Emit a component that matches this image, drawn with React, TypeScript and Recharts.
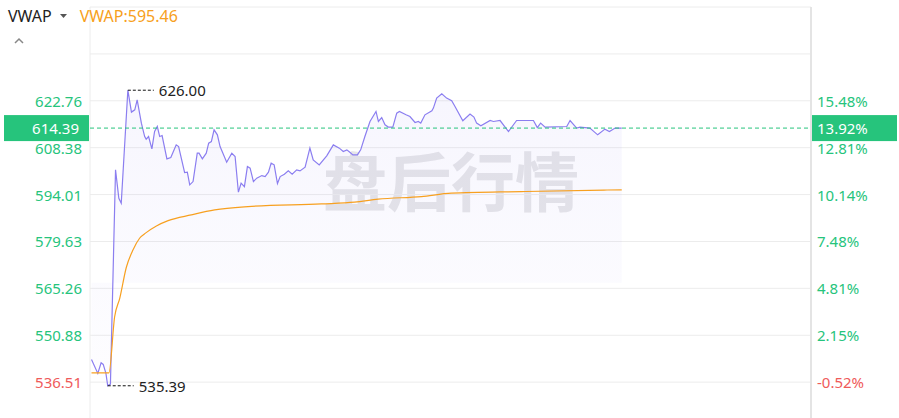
import React from 'react';
import {
  ComposedChart,
  Line,
  Area,
  XAxis,
  YAxis,
  CartesianGrid,
  ReferenceLine,
  ReferenceDot,
} from 'recharts';

// ---- data ----
const prevClose = 539.31;
const sessionMinutes = [0, 60, 120, 180, 240]; // 16:00 .. 20:00 gridlines

const priceTimes = [
  0.5, 2.6, 3.7, 4.4, 5.3, 5.9, 6.8, 8.5, 9.6, 10.4, 12.6, 13.8, 14.9, 15.7, 17.1, 18.2, 18.7, 19.5, 20.6, 21.5,
  22.4, 23.2, 24.0, 25.6, 26.9, 28.0, 28.7, 29.5, 31.5, 32.4, 33.2, 34.3, 35.7, 36.3, 37.4, 38.7, 39.5, 40.4, 41.3,
  42.4, 43.3, 45.5, 47.2, 48.3, 49.4, 50.3, 51.4, 52.4, 53.3, 54.4, 55.5, 57.2, 58.3, 59.4, 60.3, 61.3, 62.4, 63.3,
  64.7, 66.0, 67.3, 68.8, 69.9, 71.6, 73.2, 74.3, 76.3, 78.8, 81.0, 83.0, 84.3, 85.5, 86.6, 87.5, 89.0, 90.1, 91.5,
  93.2, 95.2, 96.0, 97.1, 98.2, 99.3, 100.8, 102.1, 103.0, 105.2, 106.5, 108.2, 109.3, 110.1, 111.5, 113.8, 114.3,
  115.4, 117.1, 118.7, 120.4, 121.5, 124.1, 126.5, 127.8, 128.7, 130.1, 133.2, 134.3, 136.5, 139.3, 142.0, 147.6,
  148.9, 150.0, 151.5, 158.7, 159.8, 162.0, 163.1, 166.4, 169.0, 171.4, 172.9, 174.8, 177.0,
];
const prices = [
  543.48, 539.18, 542.43, 541.94, 539.18, 535.39, 535.9, 601.58, 592.89, 591.36, 626.0, 619.29, 620.0, 623.07, 615.91,
  611.8, 611.0, 611.8, 608.03, 613.34, 614.87, 611.8, 612.11, 604.96, 605.36, 607.72, 609.25, 608.73, 600.75, 600.87,
  596.98, 597.99, 606.71, 606.71, 604.96, 606.71, 609.78, 610.27, 613.86, 612.32, 608.73, 603.94, 606.71, 605.66,
  594.74, 597.5, 596.45, 602.59, 602.1, 597.99, 599.03, 599.83, 599.52, 600.87, 603.64, 603.12, 597.38, 599.52,
  600.26, 601.27, 600.26, 601.58, 601.27, 602.41, 608.24, 604.65, 603.12, 605.88, 609.25, 608.24, 607.2, 607.72,
  606.89, 606.18, 606.18, 607.72, 611.8, 616.41, 619.48, 616.41, 617.63, 615.39, 614.69, 614.69, 618.98, 619.48,
  618.46, 617.94, 616.1, 616.41, 615.91, 618.46, 619.69, 620.52, 623.59, 624.91, 623.59, 622.76, 621.01, 616.62,
  618.68, 617.76, 615.91, 615.09, 616.71, 616.41, 616.71, 613.34, 616.71, 616.71, 614.56, 615.91, 614.69, 614.87,
  616.71, 614.39, 614.69, 614.39, 612.32, 614.07, 613.34, 614.39, 614.39,
];

const vwapTimes = [
  0.5, 6.3, 8.2, 9.9, 12.1, 14.3, 16.5, 18.7, 22.1, 26.0, 33.7, 41.5, 52.6, 77.0, 88.1, 95.9, 110.3, 120.3, 143.6,
  171.1, 177.0,
];
const vwapValues = [
  539.36, 539.36, 556.55, 562.2, 571.72, 577.03, 580.62, 582.34, 584.39, 586.02, 587.77, 589.3, 590.32, 591.14,
  591.67, 592.59, 593.39, 594.43, 594.92, 595.4, 595.46,
];

const leftTickLabels = ['536.51', '550.88', '565.26', '579.63', '594.01', '608.38', '622.76'];
const rightTickLabels = ['-0.52%', '2.15%', '4.81%', '7.48%', '10.14%', '12.81%', '15.48%'];
const extraGridValues = [522.14, 637.13, 651.51];

const headerTitle = 'VWAP';
const watermarkText = '盘后行情';

// ---- derived ----
const priceData = priceTimes.map((t, i) => ({ t, p: prices[i] }));
const vwapData = vwapTimes.map((t, i) => ({ t, v: vwapValues[i] }));
const leftTickValues = leftTickLabels.map((s) => parseFloat(s));
const allTicks = [...leftTickValues, ...extraGridValues].sort((a, b) => a - b);
const yDomain = [Math.min(...allTicks), Math.max(...allTicks)];

const lastPrice = prices[prices.length - 1];
const lastVwap = vwapValues[vwapValues.length - 1];
const lastPct = ((lastPrice / prevClose - 1) * 100).toFixed(2) + '%';
const maxIdx = prices.indexOf(Math.max(...prices));
const minIdx = prices.indexOf(Math.min(...prices));

const FONT = '"Microsoft YaHei", "Noto Sans", "Noto Sans CJK SC", sans-serif';
const GREEN = '#26c47c';
const RED = '#ef5a5a';
const PURPLE = '#8b7ef0';
const ORANGE = '#f7a020';

const findIdx = (v: number) => leftTickValues.findIndex((x) => Math.abs(x - v) < 0.01);

const LeftTick = (props: any) => {
  const { x, y, payload } = props;
  const i = findIdx(payload.value);
  if (i < 0) return null;
  return (
    <text x={x} y={y} textAnchor="end" dominantBaseline="central" fontSize={15} fontFamily={FONT}
      fill={payload.value < prevClose ? RED : GREEN}>
      {leftTickLabels[i]}
    </text>
  );
};

const RightTick = (props: any) => {
  const { x, y, payload } = props;
  const i = findIdx(payload.value);
  if (i < 0) return null;
  return (
    <text x={x} y={y} textAnchor="start" dominantBaseline="central" fontSize={15} fontFamily={FONT}
      fill={payload.value < prevClose ? RED : GREEN}>
      {rightTickLabels[i]}
    </text>
  );
};

const PriceTag = (props: any) => {
  const vb = props.viewBox || {};
  const { x = 0, y = 0, width = 0 } = vb;
  return (
    <g>
      <rect x={x - 86} y={y - 13} width={85} height={26} fill={GREEN} />
      <text x={x - 11} y={y} textAnchor="end" dominantBaseline="central" fontSize={15} fontFamily={FONT} fill="#fff">
        {lastPrice.toFixed(2)}
      </text>
      <rect x={x + width + 1} y={y - 13} width={85} height={26} fill={GREEN} />
      <text x={x + width + 6} y={y} textAnchor="start" dominantBaseline="central" fontSize={15} fontFamily={FONT} fill="#fff">
        {lastPct}
      </text>
    </g>
  );
};

const ExtremeMark = (label: string) => (props: any) => {
  const { cx, cy } = props;
  return (
    <g>
      <line x1={cx} y1={cy} x2={cx + 26} y2={cy} stroke="#111" strokeWidth={1} strokeDasharray="3 2" />
      <text x={cx + 31} y={cy} dominantBaseline="central" fontSize={15} fontFamily={FONT} fill="#222">
        {label}
      </text>
    </g>
  );
};

export default function App() {
  return (
    <div style={{ position: 'absolute', left: 0, top: 0, width: 899, height: 418, overflow: 'hidden', background: '#fff', fontFamily: FONT }}>
      <div style={{ position: 'absolute', left: 323, top: 146, fontSize: 64, lineHeight: '64px', color: '#e6e6e8', fontWeight: 700, fontFamily: '"Noto Sans CJK SC", sans-serif', whiteSpace: 'nowrap' }}>
        {watermarkText}
      </div>
      <div style={{ position: 'absolute', left: 0, top: 0 }}>
        <ComposedChart width={899} height={429} margin={{ top: 7, right: 0, left: 0, bottom: 0 }}>
          <defs>
            <linearGradient id="areaFill" x1="0" y1="0" x2="0" y2="1">
              <stop offset="0%" stopColor={PURPLE} stopOpacity={0.12} />
              <stop offset="100%" stopColor={PURPLE} stopOpacity={0.02} />
            </linearGradient>
          </defs>
          <CartesianGrid yAxisId="left" stroke="#ececec" />
          <XAxis type="number" dataKey="t" domain={[0, 240]} ticks={sessionMinutes} height={0}
            tick={false} axisLine={false} tickLine={false} allowDataOverflow />
          <YAxis yAxisId="left" orientation="left" width={90} type="number" domain={yDomain} ticks={allTicks}
            tick={LeftTick} axisLine={false} tickLine={false} tickSize={0} tickMargin={8} allowDataOverflow interval={0} />
          <YAxis yAxisId="right" orientation="right" width={88} type="number" domain={yDomain} ticks={allTicks}
            tick={RightTick} axisLine={{ stroke: '#e4e4e4', strokeWidth: 2 }} tickLine={false} tickSize={0} tickMargin={6}
            allowDataOverflow interval={0} />
          <Area yAxisId="left" data={priceData} dataKey="p" type="linear" stroke="none" fill="url(#areaFill)"
            baseValue={567} isAnimationActive={false} />
          <Line yAxisId="left" data={priceData} dataKey="p" type="linear" stroke={PURPLE} strokeWidth={1.2}
            dot={false} isAnimationActive={false} />
          <Line yAxisId="left" data={vwapData} dataKey="v" type="monotone" stroke={ORANGE} strokeWidth={1.2}
            dot={false} isAnimationActive={false} />
          <ReferenceLine yAxisId="left" y={lastPrice} stroke={GREEN} strokeDasharray="4 3" strokeWidth={1}
            label={<PriceTag />} />
          <ReferenceDot yAxisId="left" x={priceTimes[maxIdx]} y={prices[maxIdx]} r={0}
            shape={ExtremeMark(prices[maxIdx].toFixed(2))} />
          <ReferenceDot yAxisId="left" x={priceTimes[minIdx]} y={prices[minIdx]} r={0}
            shape={ExtremeMark(prices[minIdx].toFixed(2))} />
        </ComposedChart>
      </div>
      <div style={{ position: 'absolute', left: 8, top: 6, fontSize: 16, lineHeight: '20px', whiteSpace: 'nowrap', display: 'flex', alignItems: 'center' }}>
        <span style={{ color: '#222' }}>{headerTitle}</span>
        <svg width={20} height={20}>
          <polygon points="8,8 15,8 11.5,12" fill="#555" />
        </svg>
        <span style={{ color: ORANGE, marginLeft: 8 }}>{`${headerTitle}:${lastVwap.toFixed(2)}`}</span>
      </div>
      <svg style={{ position: 'absolute', left: 13, top: 36 }} width={14} height={10}>
        <polyline points="2,7 6,3 10,7" fill="none" stroke="#888" strokeWidth={1.5} />
      </svg>
    </div>
  );
}
